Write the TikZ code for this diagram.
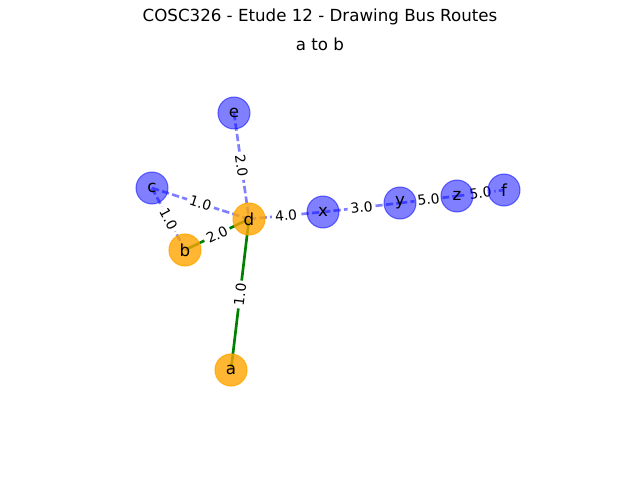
\documentclass[tikz,border=0pt]{standalone}
\usepackage{fontspec}
\setmainfont{DejaVu Sans}
\usetikzlibrary{backgrounds}
\definecolor{stoporange}{HTML}{FFA500}
\definecolor{stopblue}{HTML}{0000FF}

\tikzset{
  busstop/.style={circle, minimum size=24pt, inner sep=0pt, line width=0.8pt,
    font=\fontsize{12.5}{15}\selectfont, text opacity=1},
  routestop/.style={busstop, fill=stoporange, fill opacity=0.8, draw=stoporange, draw opacity=0.8},
  otherstop/.style={busstop, fill=stopblue, fill opacity=0.5, draw=stopblue, draw opacity=0.5},
  routeleg/.style={line width=2pt, draw=green!50!black},
  otherleg/.style={line width=2pt, draw=stopblue!50, dash pattern=on 5.5pt off 2.4pt},
  legcost/.style={midway, sloped, fill=white, rounded corners=2pt, inner sep=2.2pt,
    font=\fontsize{10.4}{12}\selectfont}
}

\begin{document}
\begin{tikzpicture}[x=0.75pt, y=-0.75pt]
  \useasboundingbox (0,0) rectangle (640,480);
  % Titles
  \node[font=\fontsize{12.5}{15}\selectfont] (title) at (320,17) {COSC326 - Etude 12 - Drawing Bus Routes};
  \node[font=\fontsize{12.5}{15}\selectfont] (subtitle) at (320,44) {a to b};
  % Stops on the chosen route
  \node[routestop] (a) at (231,370) {a};
  \node[routestop] (d) at (249,219) {d};
  \node[routestop] (b) at (185,250) {b};
  % The other stops
  \node[otherstop] (e) at (234,113) {e};
  \node[otherstop] (c) at (152,188) {c};
  \node[otherstop] (x) at (323,212) {x};
  \node[otherstop] (y) at (400,203) {y};
  \node[otherstop] (z) at (457,196) {z};
  \node[otherstop] (f) at (504,190) {f};
  \begin{scope}[on background layer]
    % Legs of the route
    \draw[routeleg] (a.center) -- node[legcost] {1.0} (d.center);
    \draw[routeleg] (d.center) -- node[legcost] {2.0} (b.center);
    % Remaining legs
    \draw[otherleg] (e.center) -- node[legcost] {2.0} (d.center);
    \draw[otherleg] (c.center) -- node[legcost] {1.0} (d.center);
    \draw[otherleg] (c.center) -- node[legcost] {1.0} (b.center);
    \draw[otherleg] (d.center) -- node[legcost] {4.0} (x.center);
    \draw[otherleg] (x.center) -- node[legcost] {3.0} (y.center);
    \draw[otherleg] (y.center) -- node[legcost] {5.0} (z.center);
    \draw[otherleg] (z.center) -- node[legcost] {5.0} (f.center);
  \end{scope}
\end{tikzpicture}
\end{document}
